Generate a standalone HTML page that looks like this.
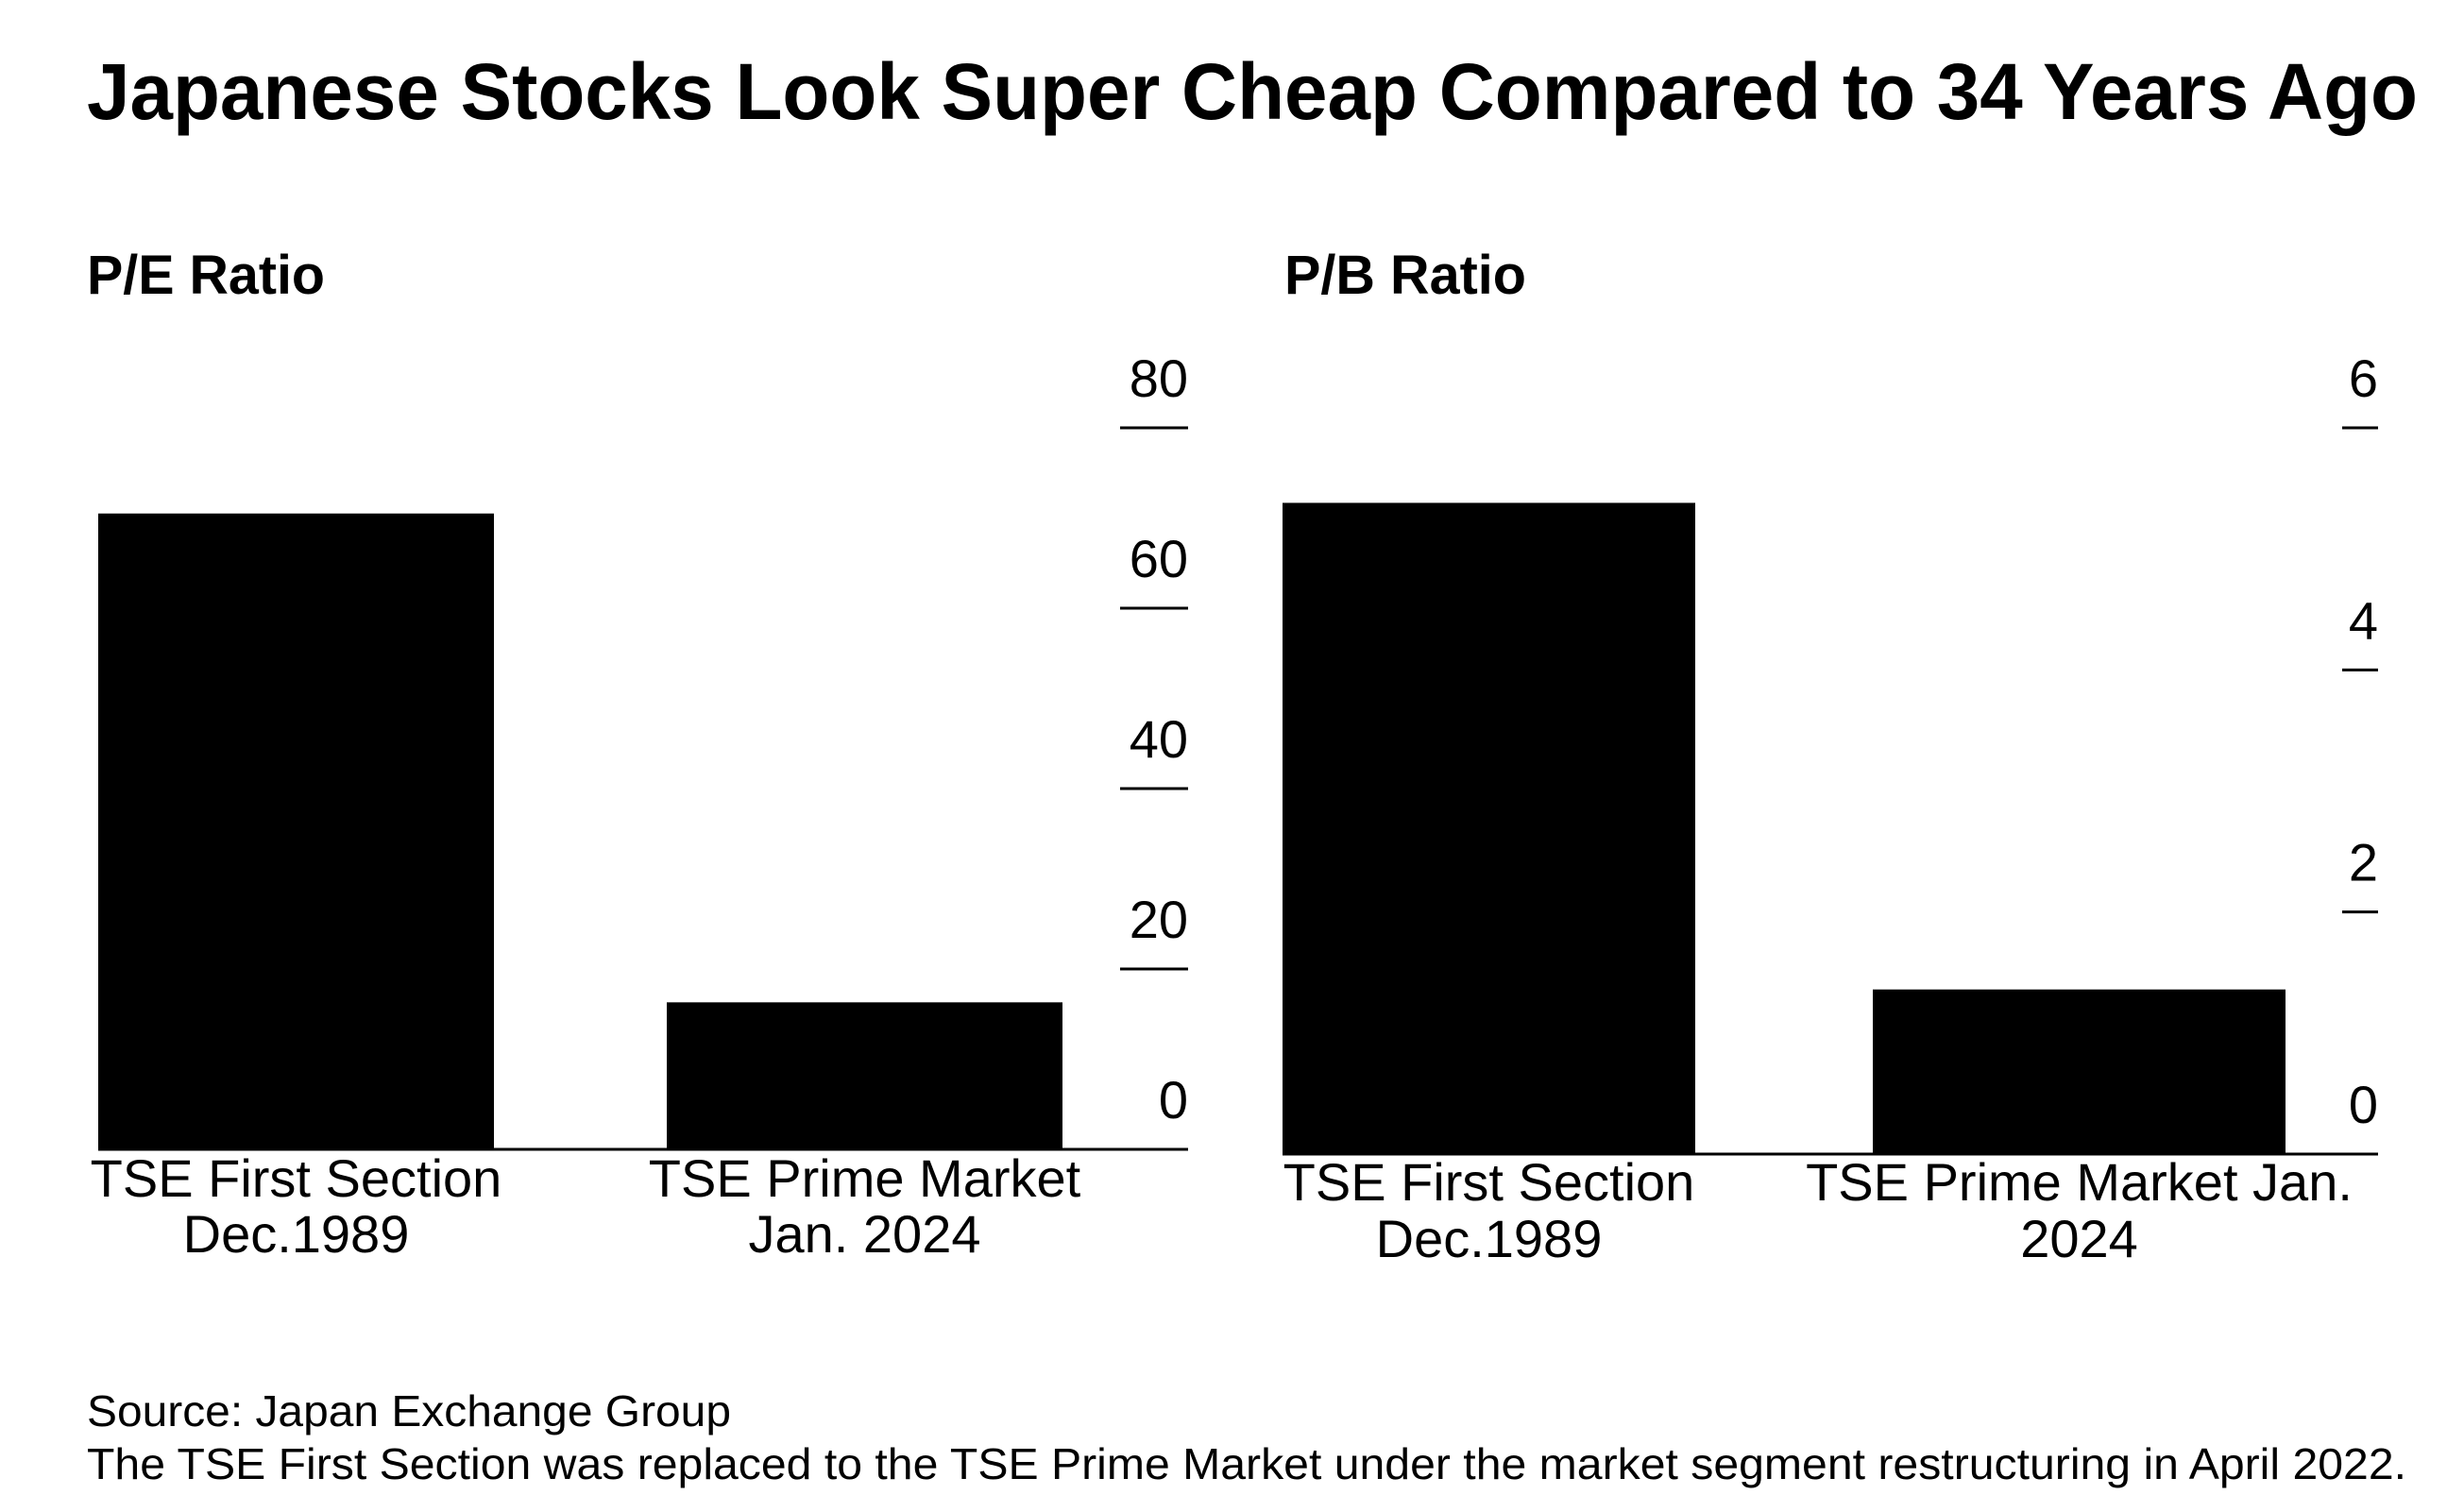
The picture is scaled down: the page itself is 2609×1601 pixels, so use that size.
<!DOCTYPE html>
<html><head><meta charset="utf-8"><style>
html,body{margin:0;padding:0;background:#fff;}
svg{display:block;font-family:"Liberation Sans",Arial,sans-serif;}
</style></head><body>
<svg id="chart" width="2609" height="1601" viewBox="0 0 2609 1601" xmlns="http://www.w3.org/2000/svg">
<rect width="2609" height="1601" fill="#fff"/>
<text x="92" y="126" font-size="84" font-weight="bold" textLength="2468" lengthAdjust="spacingAndGlyphs">Japanese Stocks Look Super Cheap Compared to 34 Years Ago</text>
<text x="92" y="311" font-size="58" font-weight="bold" textLength="252" lengthAdjust="spacingAndGlyphs">P/E Ratio</text>
<text x="1360" y="311" font-size="58" font-weight="bold" textLength="256" lengthAdjust="spacingAndGlyphs">P/B Ratio</text>
<g id="pe"></g>
<g id="pb"></g>
<text x="92" y="1510" font-size="46" textLength="682" lengthAdjust="spacingAndGlyphs">Source: Japan Exchange Group</text>
<text x="92" y="1566" font-size="46" textLength="2456" lengthAdjust="spacingAndGlyphs">The TSE First Section was replaced to the TSE Prime Market under the market segment restructuring in April 2022.</text>
</svg>
<script>
const peCategories = [["TSE First Section","Dec.1989"],["TSE Prime Market","Jan. 2024"]];
const peValues = [70.5, 16.3];
const peTicks = [0, 20, 40, 60, 80];
const pbCategories = [["TSE First Section","Dec.1989"],["TSE Prime Market Jan.","2024"]];
const pbValues = [5.38, 1.36];
const pbTicks = [0, 2, 4, 6];

const NS = "http://www.w3.org/2000/svg";
function mk(parent, tag, attrs, text) {
  const e = document.createElementNS(NS, tag);
  for (const k in attrs) e.setAttribute(k, attrs[k]);
  if (text !== undefined) e.textContent = text;
  parent.appendChild(e);
  return e;
}
function drawPanel(g, cats, vals, ticks, cfg) {
  const y = v => cfg.base - v / cfg.max * (cfg.base - cfg.top);
  ticks.forEach((t) => {
    const ty = y(t);
    if (t !== 0) {
      const ln = mk(g, "line", {x1: cfg.tickX1, x2: cfg.tickX2, y1: ty, y2: ty, stroke: "#000", "stroke-width": 3});
      
      
    }
    const lb = mk(g, "text", {x: cfg.tickX2, y: ty - 33, "font-size": 56, "text-anchor": "end"}, String(t));
    
    
  });
  vals.forEach((v, i) => {
    const x0 = cfg.barX[i], w = cfg.barW;
    const r = mk(g, "rect", {x: x0, y: y(v), width: w, height: cfg.base - y(v), fill: "#000"});
    
    
    const cx = x0 + w / 2;
    cats[i].forEach((line, j) => {
      const t = mk(g, "text", {x: cx, y: cfg.labY[j], "font-size": 56, "text-anchor": "middle"}, line);
      
      
    });
  });
  const ax = mk(g, "line", {x1: cfg.barX[0], x2: cfg.tickX2, y1: cfg.base, y2: cfg.base, stroke: "#000", "stroke-width": 3});
  
  
}
drawPanel(document.getElementById("pe"), peCategories, peValues, peTicks,
  {base: 1217, top: 453, max: 80, tickX1: 1186, tickX2: 1258, barX: [104, 706], barW: 419, labY: [1267, 1326]});
drawPanel(document.getElementById("pb"), pbCategories, pbValues, pbTicks,
  {base: 1222, top: 453, max: 6, tickX1: 2480, tickX2: 2518, barX: [1358, 1983], barW: 437, labY: [1271, 1331]});
</script>
</body></html>
